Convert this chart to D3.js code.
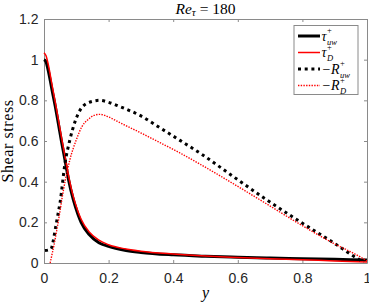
<!DOCTYPE html>
<html>
<head>
<meta charset="utf-8">
<script src="https://cdn.jsdelivr.net/npm/d3@7"></script>
<style>
  body { margin: 0; background: #fff; }
  svg { display: block; }
  .tick text { font-family: "Liberation Sans", Arial, sans-serif; font-size: 14px; fill: #262626; }
  .serif { font-family: "Liberation Serif", "Times New Roman", serif; fill: #000; }
</style>
</head>
<body>
<svg id="chart" width="369" height="305"></svg>
<script>
// values: [y, stress]
const tauUw = [
	[0, 1.0], [0.006, 0.99], [0.012, 0.955], [0.025, 0.85], [0.035, 0.77],
	[0.044, 0.69], [0.055, 0.59], [0.065, 0.507], [0.076, 0.41], [0.091, 0.31],
	[0.105, 0.24], [0.115, 0.2], [0.14, 0.14], [0.17, 0.1], [0.2, 0.082],
	[0.25, 0.063], [0.3, 0.052], [0.4, 0.04], [0.5, 0.033], [0.6, 0.028],
	[0.7, 0.024], [0.8, 0.021], [0.9, 0.018], [1.0, 0.015],
];
const tauD = [
	[0, 1.034], [0.006, 1.02], [0.012, 0.985], [0.025, 0.875], [0.035, 0.79],
	[0.044, 0.71], [0.055, 0.61], [0.065, 0.525], [0.076, 0.43], [0.091, 0.325],
	[0.105, 0.255], [0.115, 0.215], [0.14, 0.152], [0.17, 0.112], [0.2, 0.09],
	[0.25, 0.07], [0.3, 0.058], [0.4, 0.044], [0.5, 0.034], [0.6, 0.027],
	[0.7, 0.021], [0.8, 0.016], [0.9, 0.01], [1.0, 0.005],
];
const rUw = [
	[0.003, 0.061], [0.022, 0.069], [0.027, 0.097], [0.034, 0.157], [0.041, 0.22],
	[0.05, 0.3], [0.065, 0.49], [0.08, 0.605], [0.096, 0.695], [0.12, 0.77],
	[0.15, 0.795], [0.173, 0.8], [0.2, 0.79], [0.235, 0.769], [0.297, 0.726],
	[0.359, 0.665], [0.421, 0.603], [0.488, 0.535], [0.586, 0.425], [0.69, 0.31],
	[0.793, 0.203], [0.896, 0.1], [0.978, 0.015], [0.99, 0.005],
];
const rD = [
	[0.019, 0], [0.034, 0.113], [0.05, 0.26], [0.055, 0.31], [0.08, 0.507],
	[0.101, 0.61], [0.117, 0.67], [0.136, 0.705], [0.155, 0.726], [0.173, 0.731],
	[0.2, 0.718], [0.235, 0.69], [0.297, 0.642], [0.359, 0.592], [0.421, 0.541],
	[0.483, 0.486], [0.586, 0.39], [0.69, 0.29], [0.793, 0.19], [0.896, 0.097],
	[0.978, 0.031], [1.0, 0.01],
];
const xTicks = [0, 0.2, 0.4, 0.6, 0.8, 1];
const yTicks = [0, 0.2, 0.4, 0.6, 0.8, 1, 1.2];

const series = [
	{ data: tauUw, color: "#000", width: 3, dash: null, main: "τ", sup: "+", sub: "uw" },
	{ data: tauD, color: "#ff0000", width: 1.5, dash: null, main: "τ", sup: "+", sub: "D" },
	{ data: rUw, color: "#000", width: 3, dash: "3,3.7", main: "−R", sup: "+", sub: "uw" },
	{ data: rD, color: "#ff0000", width: 1.4, dash: "1.4,1.3", main: "−R", sup: "+", sub: "D" },
];

let box = { left: 44, right: 367, top: 19, bottom: 263 };
const axisColor = "#8a8a8a";

const svg = d3.select("#chart");

const x = d3.scaleLinear().domain([0, 1]).range([box.left, box.right]);
const y = d3.scaleLinear().domain([0, 1.2]).range([box.bottom, box.top]);

function styleAxis(g) {
	g.selectAll(".domain").attr("stroke", axisColor);
	g.selectAll(".tick line").attr("stroke", axisColor);
}

svg.append("g")
	.attr("transform", `translate(0,${box.bottom})`)
	.call(d3.axisBottom(x).tickValues(xTicks).tickSize(-3).tickSizeOuter(0).tickPadding(10.5).tickFormat(d3.format("")))
	.call(styleAxis);
svg.append("g")
	.attr("transform", `translate(0,${box.top})`)
	.call(d3.axisTop(x).tickValues(xTicks).tickSize(-3).tickSizeOuter(0).tickFormat(""))
	.call(styleAxis);
svg.append("g")
	.attr("transform", `translate(${box.left},0)`)
	.call(d3.axisLeft(y).tickValues(yTicks).tickSize(-3).tickSizeOuter(0).tickPadding(5.5).tickFormat(d3.format("")))
	.call(styleAxis);
svg.append("g")
	.attr("transform", `translate(${box.right},0)`)
	.call(d3.axisRight(y).tickValues(yTicks).tickSize(-3).tickSizeOuter(0).tickFormat(""))
	.call(styleAxis);

svg.selectAll(".tick text").attr("fill", "#262626").attr("stroke", "none");

const line = d3.line()
	.x((d) => x(d[0]))
	.y((d) => y(d[1]))
	.curve(d3.curveMonotoneX);

svg.append("g")
	.selectAll("path")
	.data(series)
	.enter()
	.append("path")
	.attr("d", (d) => line(d.data))
	.attr("fill", "none")
	.attr("stroke", (d) => d.color)
	.attr("stroke-width", (d) => d.width)
	.attr("stroke-dasharray", (d) => d.dash);

// title
let title = svg.append("text")
	.attr("class", "serif")
	.attr("x", (box.left + box.right) / 2)
	.attr("y", 13.5)
	.attr("text-anchor", "middle")
	.style("font-size", "15.5px");
title.append("tspan").style("font-style", "italic").text("Re");
title.append("tspan").style("font-style", "italic").style("font-size", "11px").attr("dy", 2.5).text("τ");
title.append("tspan").attr("dy", -2.5).text(" = 180");

// axis labels
svg.append("text")
	.attr("class", "serif")
	.attr("x", (box.left + box.right) / 2)
	.attr("y", 298)
	.attr("text-anchor", "middle")
	.style("font-size", "16px")
	.style("font-style", "italic")
	.text("y");

svg.append("text")
	.attr("class", "serif")
	.attr("transform", `translate(13,${(box.top + box.bottom) / 2}) rotate(-90)`)
	.attr("text-anchor", "middle")
	.style("font-size", "16px")
	.style("letter-spacing", "0.6px")
	.text("Shear stress");

// legend
let legend = svg.append("g");
legend.append("rect")
	.attr("x", 294)
	.attr("y", 25.5)
	.attr("width", 64)
	.attr("height", 69)
	.attr("fill", "#fff")
	.attr("stroke", axisColor);

series.forEach(function (s, i) {
	let ly = 36 + i * 16.5;
	legend.append("line")
		.attr("x1", 298).attr("x2", 320)
		.attr("y1", ly).attr("y2", ly)
		.attr("stroke", s.color)
		.attr("stroke-width", s.width)
		.attr("stroke-dasharray", s.dash);
	let t = legend.append("text")
		.attr("class", "serif")
		.attr("x", 321.5)
		.attr("y", ly + 4.5)
		.style("font-size", "14px")
		.style("font-style", "italic")
		.text(s.main);
	let w = t.node().getComputedTextLength();
	legend.append("text")
		.attr("class", "serif")
		.attr("x", 321.5 + w + 0.5)
		.attr("y", ly - 3)
		.style("font-size", "8.5px")
		.text(s.sup);
	legend.append("text")
		.attr("class", "serif")
		.attr("x", 321.5 + w + 0.5)
		.attr("y", ly + 8.5)
		.style("font-size", "8.5px")
		.style("font-style", "italic")
		.text(s.sub);
});
</script>
</body>
</html>
